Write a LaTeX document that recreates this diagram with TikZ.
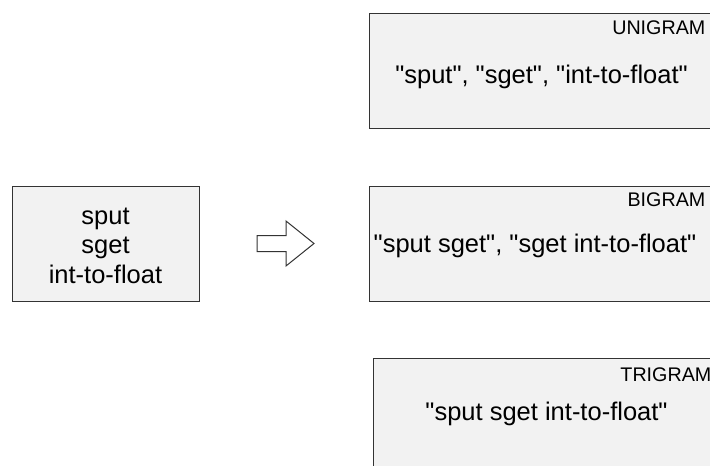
\documentclass[tikz,border=0pt]{standalone}
\usepackage{fontspec}
\setmainfont{Liberation Sans}[Ligatures=TeXOff]
\usetikzlibrary{calc}

\tikzset{
  gbox/.style={draw=black!80, fill=black!5, line width=1pt, inner sep=0pt,
    minimum width=345pt, minimum height=115pt},
  gtext/.style={font=\fontsize{25.5}{29.5}\selectfont, align=center, inner sep=0pt},
  gtag/.style={font=\fontsize{19.7}{22}\selectfont, inner sep=0pt, anchor=base east},
}

\begin{document}
\begin{tikzpicture}[x=1pt,y=-1pt]
  \useasboundingbox (0,0) rectangle (710,466);
  \clip (0,0) rectangle (710,466);

  % input tokens
  \node[gbox, minimum width=187pt] (src) at (105.5,243.5) {};
  \node[gtext, anchor=base] (src-txt) at (105.5,283) {sput\\sget\\int-to-float};

  % n-gram boxes
  \node[gbox] (uni) at (541.5,70.5) {};
  \node[gbox] (bi) at (541.5,243.5) {};
  \node[gbox] (tri) at (545.5,415.5) {};

  \node[gtag] (uni-tag) at ($(uni.north east)+(-9,22)$) {UNIGRAM};
  \node[gtag] (bi-tag) at ($(bi.north east)+(-9,21)$) {BIGRAM};
  \node[gtag] (tri-tag) at ($(tri.north east)+(-7,24)$) {TRIGRAM};

  \node[gtext, anchor=base] (uni-txt) at (541.5,83) {"sput", "sget", "int-to-float"};
  \node[gtext, anchor=base] (bi-txt) at (535,252) {"sput sget", "sget int-to-float"};
  \node[gtext, anchor=base] (tri-txt) at (546.5,420) {"sput sget int-to-float"};

  % hollow arrow
  \coordinate (arr) at ($(src.east)!0.5!(bi.west)$);
  \draw[line width=1pt, black!80, fill=white, line join=miter]
    ($(arr)+(-27,-8)$) -- ($(arr)+(2,-8)$) -- ($(arr)+(2,-22.5)$)
    -- ($(arr)+(30,0)$) -- ($(arr)+(2,22.5)$) -- ($(arr)+(2,8)$)
    -- ($(arr)+(-27,8)$) -- cycle;
\end{tikzpicture}
\end{document}
